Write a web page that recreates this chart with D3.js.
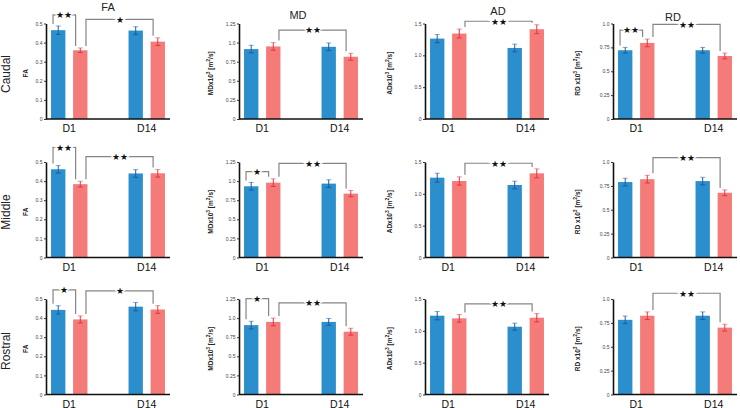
<!DOCTYPE html>
<html>
<head>
<meta charset="utf-8">
<style>
  body { margin: 0; background: #fff; }
  text { font-family: "Liberation Sans", Arial, sans-serif; }
</style>
</head>
<body>
<script src="https://d3js.org/d3.v7.min.js"></script>
<script>
// rows of the figure, columns of the figure, x categories, the two bar groups
var regions = ["Caudal", "Middle", "Rostral"];
var measures = ["FA", "MD", "AD", "RD"];
var days = ["D1", "D14"];
var groups = ["g1", "g2"];

// each row: [g1 D1, g2 D1, g1 D14, g2 D14], one row per region
var faMean = [[0.465, 0.36, 0.463, 0.405], [0.462, 0.384, 0.44, 0.441], [0.443, 0.393, 0.46, 0.445]];
var faErr  = [[0.022, 0.012, 0.02, 0.02], [0.02, 0.015, 0.02, 0.02], [0.022, 0.018, 0.022, 0.02]];
var mdMean = [[0.915, 0.95, 0.945, 0.815], [0.932, 0.98, 0.967, 0.836], [0.908, 0.95, 0.95, 0.822]];
var mdErr  = [[0.05, 0.05, 0.05, 0.045], [0.05, 0.05, 0.05, 0.04], [0.05, 0.05, 0.045, 0.045]];
var adMean = [[1.263, 1.342, 1.116, 1.41], [1.254, 1.202, 1.139, 1.322], [1.238, 1.196, 1.065, 1.206]];
var adErr  = [[0.065, 0.07, 0.06, 0.07], [0.07, 0.065, 0.06, 0.07], [0.065, 0.06, 0.055, 0.065]];
var rdMean = [[0.72, 0.797, 0.72, 0.66], [0.79, 0.82, 0.80, 0.678], [0.782, 0.825, 0.825, 0.70]];
var rdErr  = [[0.03, 0.04, 0.03, 0.03], [0.04, 0.04, 0.04, 0.03], [0.04, 0.04, 0.04, 0.035]];

// significance brackets: [bar a, bar b, bracket height (data units), stars]
var faSig = [[[0, 1, 0.545, 2], [1, 3, 0.522, 1]], [[0, 1, 0.577, 2], [1, 3, 0.528, 2]], [[0, 1, 0.548, 1], [1, 3, 0.543, 1]]];
var mdSig = [[[1, 3, 1.164, 2]], [[0, 1, 1.123, 1], [1, 3, 1.233, 2]], [[0, 1, 1.254, 1], [1, 3, 1.198, 2]]];
var adSig = [[[1, 3, 1.535, 2]], [[1, 3, 1.48, 2]], [[1, 3, 1.422, 2]]];
var rdSig = [[[0, 1, 0.93, 2], [1, 3, 0.99, 2]], [[1, 3, 1.045, 2]], [[1, 3, 1.06, 2]]];

// y axes
var faTicks = [0, 0.1, 0.2, 0.3, 0.4, 0.5];
var mdTicks = [0, 0.25, 0.5, 0.75, 1.0, 1.25];
var adTicks = [0, 0.5, 1.0, 1.5];
var rdTicks = [0, 0.25, 0.5, 0.75, 1.0];
var yMax = [0.5, 1.25, 1.5, 1.0];

var means = [faMean, mdMean, adMean, rdMean];
var errs = [faErr, mdErr, adErr, rdErr];
var sigs = [faSig, mdSig, adSig, rdSig];
var ticks = [faTicks, mdTicks, adTicks, rdTicks];

// layout
var colX = [46, 239, 425, 613];
var rowY = [23.5, 162, 299];
var panelW = 124, panelH = 95.5;
var yTitleOff = [18, 26, 33, 33];
var titleDx = [62, 59, 73, 60];
var titleY = [7, 15, 11, 17];
var rowLabelY = [74, 212, 351];

var barColor = ["#2b8fcd", "#f47b78"];
var errColor = ["#1d5c9e", "#e3344b"];

var svg = d3.select("body").append("svg")
    .attr("width", 740)
    .attr("height", 408);

// column titles
measures.forEach(function (m, c) {
  svg.append("text")
     .attr("x", colX[c] + titleDx[c])
     .attr("y", titleY[c] + 3.5)
     .attr("text-anchor", "middle")
     .attr("font-size", 11)
     .attr("fill", "#222")
     .text(m);
});

// row labels
regions.forEach(function (r, i) {
  svg.append("text")
     .attr("transform", "translate(10," + rowLabelY[i] + ") rotate(-90)")
     .attr("text-anchor", "middle")
     .attr("font-size", 12)
     .attr("fill", "#222")
     .text(r);
});

var x = d3.scaleBand().domain(days).range([0, panelW]).paddingInner(0.53).paddingOuter(0.065);
var xg = d3.scaleBand().domain(groups).range([0, x.bandwidth()]).paddingInner(0.35);

function fmt(v) {
  if (v === 0) return "0";
  if (v === 1) return "1.0";
  return String(v);
}

function barX(k) { return x(days[Math.floor(k / 2)]) + xg(groups[k % 2]); }

for (var r = 0; r < regions.length; r++) {
  for (var c = 0; c < measures.length; c++) {
    var g = svg.append("g").attr("transform", "translate(" + colX[c] + "," + rowY[r] + ")");
    var y = d3.scaleLinear().domain([0, yMax[c]]).range([panelH, 0]);
    var mean = means[c][r], err = errs[c][r];
    var bw = xg.bandwidth();

    // bars
    g.selectAll("rect.bar").data(mean).enter().append("rect")
     .attr("class", "bar")
     .attr("x", function (d, k) { return barX(k); })
     .attr("y", function (d) { return y(d); })
     .attr("width", bw)
     .attr("height", function (d) { return panelH - y(d); })
     .attr("fill", function (d, k) { return barColor[k % 2]; });

    // error bars
    mean.forEach(function (d, k) {
      var cx = barX(k) + bw / 2;
      var col = errColor[k % 2];
      g.append("line").attr("x1", cx).attr("x2", cx)
       .attr("y1", y(d - err[k])).attr("y2", y(d + err[k]))
       .attr("stroke", col).attr("stroke-width", 1);
      [d - err[k], d + err[k]].forEach(function (v, t) {
        g.append("line").attr("x1", cx - 2.5).attr("x2", cx + 2.5)
         .attr("y1", y(v)).attr("y2", y(v))
         .attr("stroke", col).attr("stroke-width", 1)
         .attr("stroke-opacity", t === 1 ? 0.55 : 1);
      });
    });

    // significance brackets
    sigs[c][r].forEach(function (s) {
      var a = s[0], b = s[1];
      var xa = (a === 1 && b === 3) ? barX(a) + bw - 1.5 : barX(a) + 2;
      var xb = barX(b) + 2.5;
      var yl = y(s[2]);
      var ya = y(mean[a] + err[a]) - 2, yb = y(mean[b] + err[b]) - 2;
      g.append("path")
       .attr("d", "M" + xa + "," + ya + "V" + yl + "H" + xb + "V" + yb)
       .attr("fill", "none").attr("stroke", "#858585").attr("stroke-width", 1.2);
      g.append("text")
       .attr("x", (xa + xb) / 2).attr("y", yl + 3.3)
       .attr("text-anchor", "middle")
       .attr("font-family", "DejaVu Sans")
       .attr("font-size", 8.5)
       .attr("fill", "#111")
       .attr("stroke", "#fff").attr("stroke-width", 2.5)
       .attr("paint-order", "stroke")
       .text(s[3] === 2 ? "\u2605\u2605" : "\u2605");
    });

    // y axis
    var yax = g.append("g").call(d3.axisLeft(y).tickValues(ticks[c]).tickSize(2).tickSizeOuter(0).tickFormat(fmt));
    yax.select(".domain").attr("stroke", "#111").attr("stroke-width", 1.6);
    yax.selectAll(".tick line").attr("stroke", "#333");
    yax.selectAll(".tick text").attr("font-size", 5).attr("fill", "#444").attr("x", -3.5)
      .attr("font-family", "Liberation Sans, Arial, sans-serif");

    // x axis line
    g.append("line").attr("x1", 0).attr("x2", panelW).attr("y1", panelH).attr("y2", panelH)
     .attr("stroke", "#111").attr("stroke-width", 1.6);

    // day labels
    days.forEach(function (dname) {
      g.append("text")
       .attr("x", x(dname) + x.bandwidth() / 2)
       .attr("y", panelH + 13)
       .attr("text-anchor", "middle")
       .attr("font-size", 10.5)
       .attr("fill", "#111")
       .text(dname);
    });

    // y axis title
    var yt = g.append("text")
       .attr("transform", "translate(" + (-yTitleOff[c]) + "," + (panelH / 2 + 2) + ") rotate(-90)")
       .attr("text-anchor", "middle")
       .attr("font-size", 6.5)
       .attr("font-weight", "bold")
       .attr("fill", "#222");
    if (c === 0) {
      yt.text("FA");
    } else {
      yt.append("tspan").text(measures[c] + (c === 3 ? " x10" : "x10"));
      yt.append("tspan").attr("dy", -2.8).attr("font-size", 5).text("3");
      yt.append("tspan").attr("dy", 2.8).text("   [m");
      yt.append("tspan").attr("dy", -2.8).attr("font-size", 5).text("2");
      yt.append("tspan").attr("dy", 2.8).text("/s]");
    }
  }
}
</script>
</body>
</html>
